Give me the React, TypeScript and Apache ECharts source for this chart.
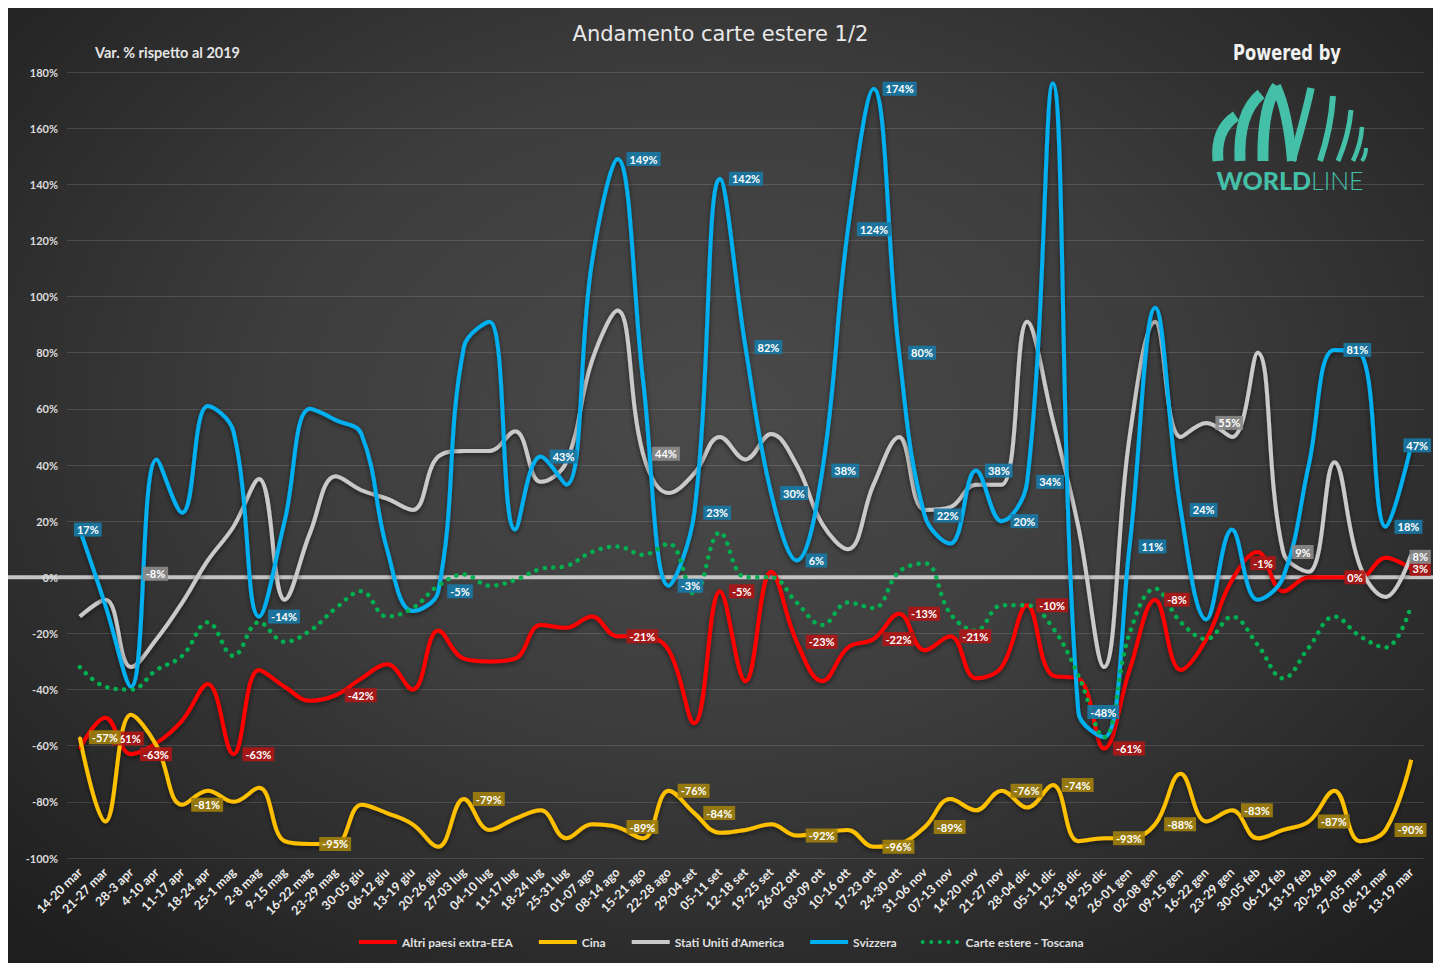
import React, { useEffect, useRef } from 'react';
import * as echarts from 'echarts';

const categories = [
  '14-20 mar', '21-27 mar', '28-3 apr', '4-10 apr', '11-17 apr', '18-24 apr', '25-1 mag', '2-8 mag',
  '9-15 mag', '16-22 mag', '23-29 mag', '30-05 giu', '06-12 giu', '13-19 giu', '20-26 giu', '27-03 lug',
  '04-10 lug', '11-17 lug', '18-24 lug', '25-31 lug', '01-07 ago', '08-14 ago', '15-21 ago', '22-28 ago',
  '29-04 set', '05-11 set', '12-18 set', '19-25 set', '26-02 ott', '03-09 ott', '10-16 ott', '17-23 ott',
  '24-30 ott', '31-06 nov', '07-13 nov', '14-20 nov', '21-27 nov', '28-04 dic', '05-11 dic', '12-18 dic',
  '19-25 dic', '26-01 gen', '02-08 gen', '09-15 gen', '16-22 gen', '23-29 gen', '30-05 feb', '06-12 feb',
  '13-19 feb', '20-26 feb', '27-05 mar', '06-12 mar', '13-19 mar',
];

const altriPaesi = [
  -61, -50, -63, -59, -51, -38, -63, -33, -39, -44, -42, -36, -31, -40, -19, -29, -30, -29, -17, -18,
  -14, -21, -21, -26, -52, -5, -37, 2, -23, -37, -25, -22, -13, -26, -21, -36, -32, -10, -35, -36,
  -61, -33, -8, -33, -22, -1, 9, -5, 0, 0, 0, 7, 3,
];
const cina = [
  -57, -87, -49, -60, -81, -76, -80, -75, -94, -95, -95, -81, -84, -88, -96, -79, -90, -86, -83, -93,
  -88, -89, -93, -76, -84, -91, -90, -88, -92, -91, -90, -96, -95, -89, -79, -83, -76, -82, -74, -94,
  -93, -93, -88, -70, -87, -83, -93, -90, -87, -76, -94, -90, -65,
];
const statiUniti = [
  -14, -8, -32, -22, -9, 6, 18, 35, -8, 16, 36, 31, 28, 24, 43, 45, 45, 52, 34, 41,
  77, 95, 44, 30, 37, 50, 42, 51, 40, 19, 10, 33, 50, 24, 25, 33, 33, 91, 56, 18,
  -32, 50, 91, 50, 55, 50, 80, 9, 2, 41, 4, -7, 8,
];
const svizzera = [
  17, -10, -39, 42, 23, 61, 52, -14, 20, 60, 56, 51, 10, -12, -5, 82, 91, 17, 43, 33,
  112, 149, 70, -3, 23, 142, 82, 30, 6, 38, 124, 174, 80, 22, 12, 38, 20, 34, 176, -48,
  -57, 11, 96, 24, -15, 17, -8, 0, 40, 81, 80, 18, 47,
];
const toscana = [
  -32, -39, -40, -33, -28, -16, -28, -16, -23, -19, -11, -5, -14, -11, -3, 1, -3, -1, 3, 4,
  9, 11, 8, 12, -6, 16, 0, 0, -9, -17, -9, -11, 2, 5, -13, -19, -10, -10, -18, -35,
  -57, -20, -4, -16, -22, -14, -24, -36, -25, -14, -21, -25, -10,
];

const seriesNames = ['Altri paesi extra-EEA', 'Cina', "Stati Uniti d'America", 'Svizzera', 'Carte estere - Toscana'];

// indices of the weeks whose value is written as a label
const altriLabelIdx = [0, 2, 6, 10, 21, 25, 28, 31, 32, 34, 37, 40, 42, 45, 50, 52];
const cinaLabelIdx = [0, 4, 9, 15, 21, 23, 24, 28, 31, 33, 36, 38, 40, 42, 45, 48, 51];
const usaLabelIdx = [1, 22, 44, 47, 52];
const svizzeraLabelIdx = [0, 7, 14, 18, 21, 23, 24, 25, 26, 27, 28, 29, 30, 31, 32, 33, 35, 36, 37, 39, 41, 43, 49, 51, 52];

// label placement overrides (styling only): centred on the point with an offset
const altriOffsets: Record<number, number[]> = { 0: [48, -10], 45: [31, -17], 50: [-5, 0], 52: [9, 0] };
const cinaOffsets: Record<number, number[]> = { 0: [25, 0] };
const usaOffsets: Record<number, number[]> = { 1: [50, -26], 52: [9, 2] };
const svizzeraOffsets: Record<number, number[]> = { 0: [8, 0], 52: [6, 0] };

const FONT = 'Lato, "Open Sans", "DejaVu Sans", sans-serif';

function buildData(values: number[], idx: number[], offsets: Record<number, number[]>) {
  const set = new Set(idx);
  return values.map((v, i) => {
    if (!set.has(i)) return v;
    const off = offsets[i];
    const label = off
      ? { show: true, position: 'inside', offset: off }
      : { show: true, position: 'right', distance: 8 };
    return { value: v, symbol: 'circle', symbolSize: 2, label };
  });
}

function lineSeries(name: string, data: any[], color: string, labelBg: string, extra: any = {}) {
  return {
    name,
    type: 'line',
    data,
    smooth: 0.4,
    symbol: 'none',
    showSymbol: true,
    showAllSymbol: true,
    lineStyle: {
      color,
      width: 4,
      shadowColor: 'rgba(0,0,0,0.55)',
      shadowBlur: 5,
      shadowOffsetY: 2,
      ...(extra.lineStyle || {}),
    },
    itemStyle: { color },
    label: {
      show: false,
      formatter: '{c}%',
      color: '#ffffff',
      fontSize: 11,
      fontWeight: 'bold',
      fontFamily: FONT,
      backgroundColor: labelBg,
      padding: [2, 3, 1, 3],
    },
    emphasis: { disabled: true },
  };
}

const W = 1425;
const H = 955;

const TEAL = '#44bfa8';
function logoElements(): any[] {
  const o = 8; // page offset of the chart div
  const strokes = [
    { p: [1218, 161, 1236, 116, 1215, 130], w: 11 },
    { p: [1240, 161, 1261, 94, 1238, 113], w: 11 },
    { p: [1263, 161, 1277, 86, 1262, 108], w: 11 },
    { p: [1276, 86, 1292, 161, 1288, 112], w: 10 },
    { p: [1292, 161, 1311, 88, 1305, 116], w: 7.5 },
    { p: [1320, 161, 1333, 96, 1331, 128], w: 6 },
    { p: [1338, 161, 1351, 110, 1349, 135], w: 5 },
    { p: [1353, 161, 1362, 127, 1361, 144], w: 4.5 },
    { p: [1362, 161, 1366, 148, 1366, 155], w: 4 },
  ];
  return strokes.map((s, k) => ({
    type: 'bezierCurve',
    id: 'logo' + k,
    silent: true,
    z: 10,
    shape: {
      x1: s.p[0] - o, y1: s.p[1] - o, x2: s.p[2] - o, y2: s.p[3] - o,
      cpx1: s.p[4] - o, cpy1: s.p[5] - o,
    },
    style: { stroke: TEAL, lineWidth: s.w, fill: null, lineCap: 'butt' },
  }));
}

export default function App() {
  const ref = useRef<HTMLDivElement>(null);

  useEffect(() => {
    if (!ref.current) return;
    const chart = echarts.init(ref.current, null, { renderer: 'svg' });

    const option: any = {
      animation: false,
      backgroundColor: 'transparent',
      title: [
        {
          text: 'Andamento carte estere 1/2',
          left: 'center',
          top: 15,
          padding: 0,
          textStyle: { color: '#e8e8e8', fontSize: 21, fontWeight: 'normal', fontFamily: '"DejaVu Sans", sans-serif' },
        },
        {
          text: 'Var. % rispetto al 2019',
          left: 87,
          top: 37,
          padding: 0,
          textStyle: { color: '#e4e4e4', fontSize: 14.5, fontWeight: 'bold', fontFamily: FONT },
        },
      ],
      legend: {
        data: seriesNames,
        left: 'center',
        top: 923,
        itemWidth: 38,
        itemHeight: 14,
        itemGap: 24,
        itemStyle: { opacity: 0 },
        lineStyle: { width: 4 },
        textStyle: { color: '#e0e0e0', fontSize: 12, fontWeight: 'bold', fontFamily: FONT },
      },
      grid: { left: 59, right: 9, top: 64, bottom: 105, containLabel: false },
      xAxis: {
        type: 'category',
        data: categories,
        boundaryGap: true,
        axisLine: { show: false },
        axisTick: { show: false },
        splitLine: { show: false },
        axisLabel: {
          interval: 0,
          rotate: 45,
          margin: 12,
          color: '#ececec',
          fontSize: 12.5,
          fontWeight: 'bold',
          fontFamily: FONT,
        },
      },
      yAxis: [
        {
          type: 'value',
          min: -100,
          max: 180,
          interval: 20,
          z: 3,
          axisLine: { show: false },
          axisTick: { show: false },
          splitLine: { show: false },
          axisLabel: {
            formatter: '{value}%',
            color: '#dcdcdc',
            fontSize: 11,
            fontWeight: 'bold',
            fontFamily: FONT,
            margin: 9,
          },
        },
        {
          type: 'value',
          min: -100,
          max: 180,
          interval: 20,
          position: 'left',
          z: 0,
          axisLine: { show: false },
          axisTick: { show: false },
          axisLabel: { show: false },
          splitLine: { lineStyle: { color: 'rgba(255,255,255,0.13)', width: 1 } },
        },
      ],
      series: [
        lineSeries(seriesNames[0], buildData(altriPaesi, altriLabelIdx, altriOffsets), '#ff0000', 'rgba(175,22,22,0.9)'),
        lineSeries(seriesNames[1], buildData(cina, cinaLabelIdx, cinaOffsets), '#ffc000', 'rgba(160,128,12,0.9)'),
        lineSeries(seriesNames[2], buildData(statiUniti, usaLabelIdx, usaOffsets), '#cacaca', 'rgba(140,140,140,0.9)'),
        lineSeries(seriesNames[3], buildData(svizzera, svizzeraLabelIdx, svizzeraOffsets), '#00b0f0', 'rgba(25,120,165,0.92)'),
        lineSeries(seriesNames[4], toscana, '#00b050', 'transparent', {
          lineStyle: { type: [0.1, 8.5], cap: 'round', width: 4.5, shadowBlur: 0, shadowOffsetY: 0 },
        }),
      ],
    };

    chart.setOption(option);

    const y0 = chart.convertToPixel({ yAxisIndex: 0 }, 0) as number;
    chart.setOption({
      graphic: [
        {
          type: 'line',
          id: 'zeroLine',
          silent: true,
          z: 1,
          shape: { x1: 0, y1: y0, x2: W, y2: y0 },
          style: { stroke: '#c4c4c4', lineWidth: 4 },
        },
        {
          type: 'text',
          id: 'powered',
          silent: true,
          z: 10,
          x: 1279,
          y: 45,
          scaleX: 0.74,
          style: {
            text: 'Powered by',
            fill: '#f2f2f2',
            fontSize: 22,
            fontWeight: 'bold',
            fontFamily: '"DejaVu Sans", sans-serif',
            align: 'center',
            verticalAlign: 'middle',
          },
        },
        {
          type: 'text',
          id: 'worldline',
          silent: true,
          z: 10,
          x: 1282,
          y: 172,
          style: {
            text: '{b|WORLD}{l|LINE}',
            align: 'center',
            verticalAlign: 'middle',
            rich: {
              b: { fill: TEAL, fontSize: 25, fontWeight: 900, fontFamily: 'Lato, "Open Sans", sans-serif' },
              l: { fill: TEAL, fontSize: 25, fontWeight: 300, fontFamily: 'Lato, "Open Sans", sans-serif' },
            },
          },
        },
        ...logoElements(),
      ],
    });

    return () => {
      chart.dispose();
    };
  }, []);

  return (
    <div
      ref={ref}
      style={{
        width: W,
        height: H,
        background:
          'radial-gradient(ellipse 70% 75% at 50% 42%, #4a4a4a 0%, #3d3d3d 45%, #2a2a2a 80%, #1f1f1f 100%)',
      }}
    />
  );
}
